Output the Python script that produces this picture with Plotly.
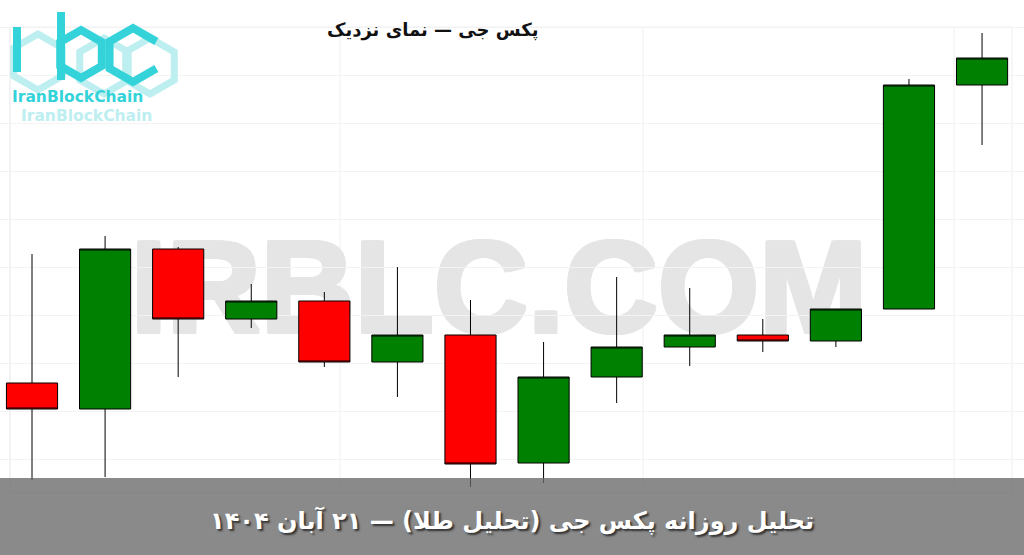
import plotly.graph_objects as go

# daily candles (hidden price axis)
dates = ["2025-10-27", "2025-10-28", "2025-10-29", "2025-10-30", "2025-10-31",
         "2025-11-01", "2025-11-02", "2025-11-03", "2025-11-04", "2025-11-05",
         "2025-11-06", "2025-11-07", "2025-11-08", "2025-11-09"]
open_ = [3988.5, 3975.5, 4055.5, 4020.5, 4029.5, 3999.0, 4012.5,
         3948.5, 3991.5, 4006.5, 4012.5, 4009.5, 4025.5, 4137.5]
high = [4053.0, 4062.0, 4056.5, 4038.0, 4034.0, 4046.5, 4030.0,
        4009.0, 4041.5, 4036.0, 4020.5, 4025.5, 4140.5, 4163.5]
low = [3940.0, 3941.5, 3991.5, 4016.0, 3996.5, 3981.5, 3936.5,
       3938.5, 3978.5, 3997.0, 4004.0, 4006.5, 4025.5, 4107.5]
close = [3975.5, 4055.5, 4020.5, 4029.5, 3999.0, 4012.5, 3948.0,
         3991.5, 4006.5, 4012.5, 4009.5, 4025.5, 4137.5, 4151.0]

title = "پکس جی — نمای نزدیک"
caption = "تحلیل روزانه پکس جی (تحلیل طلا) — ۲۱ آبان ۱۴۰۴"
W, H = 1024, 555
CYAN = "#33d3d9"
CYAN_LIGHT = "#bdeef0"


def px(x, y):
    return x / W, 1 - y / H


def hex_path(cx, cy, r, open_right=False):
    k = 0.866 * r
    pts = [(cx + k, cy - r / 2), (cx, cy - r), (cx - k, cy - r / 2),
           (cx - k, cy + r / 2), (cx, cy + r), (cx + k, cy + r / 2)]
    pp = [px(a, b) for a, b in pts]
    d = "M" + " L".join(f"{a:.4f},{b:.4f}" for a, b in pp)
    return d if open_right else d + " Z"


def vline(x, y0, y1, color, width, layer="above"):
    return dict(type="line", xref="paper", yref="paper", x0=px(x, 0)[0], x1=px(x, 0)[0],
                y0=px(0, y0)[1], y1=px(0, y1)[1], layer=layer,
                line=dict(color=color, width=width))


fig = go.Figure(go.Candlestick(
    x=dates, open=open_, high=high, low=low, close=close,
    increasing=dict(fillcolor="#008000", line=dict(color="#000000", width=1)),
    decreasing=dict(fillcolor="#ff0000", line=dict(color="#000000", width=1)),
    whiskerwidth=0, showlegend=False, hoverinfo="skip",
))

shapes = []
# faint chart grid / frame
for gx in [10, 340, 643, 954]:
    shapes.append(vline(gx, 493, 27, "#f0f0f0", 1, "below"))
shapes.append(dict(type="rect", xref="paper", yref="paper",
                   x0=px(10, 0)[0], x1=px(1012, 0)[0], y0=px(0, 493)[1], y1=px(0, 27)[1],
                   layer="below", line=dict(color="#eeeeee", width=1)))
# watermark behind candles (drawn a few times, offset, to make it heavier)
for dx in (-2, 0, 2):
    for dy in (-2, 0, 2):
        shapes.append(dict(type="rect", xref="paper", yref="paper",
                           x0=px(99 + dx, 0)[0], x1=px(899 + dx, 0)[0],
                           y0=px(0, 330 + dy)[1], y1=px(0, 220 + dy)[1],
                           layer="below", line=dict(width=0), fillcolor="rgba(0,0,0,0)",
                           label=dict(text="IRBLC.COM", textposition="middle center",
                                      font=dict(family="Liberation Sans", size=130,
                                                color="#e5e5e5", weight="bold"))))
# logo
for cx, cy in [(38, 62), (104, 66), (150, 66)]:
    shapes.append(dict(type="path", xref="paper", yref="paper", path=hex_path(cx, cy, 28),
                       line=dict(color=CYAN_LIGHT, width=7), layer="above"))
shapes.append(vline(17, 72, 27, CYAN, 8))
shapes.append(vline(61, 80, 12, CYAN, 8))
shapes.append(dict(type="path", xref="paper", yref="paper", path=hex_path(81, 54, 24),
                   line=dict(color=CYAN, width=8)))
shapes.append(dict(type="path", xref="paper", yref="paper", path=hex_path(133, 55, 27, True),
                   line=dict(color=CYAN, width=8)))
# bottom caption band
shapes.append(dict(type="rect", xref="paper", yref="paper", x0=0, x1=1,
                   y0=0, y1=px(0, 478)[1], layer="above", line=dict(width=0),
                   fillcolor="rgba(105,105,105,0.78)"))

annotations = [
    dict(text=title, x=px(432, 0)[0], y=px(0, 30)[1], xref="paper", yref="paper",
         yanchor="middle", showarrow=False,
         font=dict(family="DejaVu Sans", size=18, color="#111111", weight="bold")),
    dict(text="IranBlockChain", x=px(10, 0)[0], y=px(0, 97)[1], xref="paper", yref="paper",
         xanchor="left", yanchor="middle", showarrow=False,
         font=dict(family="DejaVu Sans", size=15.5, color=CYAN, weight="bold")),
    dict(text="IranBlockChain", x=px(19, 0)[0], y=px(0, 116)[1], xref="paper", yref="paper",
         xanchor="left", yanchor="middle", showarrow=False,
         font=dict(family="DejaVu Sans", size=15.5, color=CYAN_LIGHT, weight="bold")),
    dict(text=caption, x=0.5, y=px(0, 520)[1], xref="paper", yref="paper",
         yanchor="middle", showarrow=False,
         font=dict(family="DejaVu Sans", size=24, color="#ffffff", weight="bold",
                   shadow="2px 2px 2px #333333")),
]

fig.update_layout(
    width=W, height=H, margin=dict(l=0, r=0, t=0, b=0),
    paper_bgcolor="#ffffff", plot_bgcolor="#ffffff",
    boxgap=0.0, boxgroupgap=0.3,
    shapes=shapes, annotations=annotations,
    xaxis=dict(type="category", range=[-0.438, 13.574], showticklabels=False,
               showgrid=False, zeroline=False, rangeslider=dict(visible=False)),
    yaxis=dict(range=[3902.5, 4180], showticklabels=False, zeroline=False,
               showgrid=True, gridcolor="#f3f3f3", tick0=4166.5, dtick=24),
)

fig.write_html("out.html", config={"displayModeBar": False},
               post_script="document.body.style.margin='0';document.body.style.overflow='hidden';")
